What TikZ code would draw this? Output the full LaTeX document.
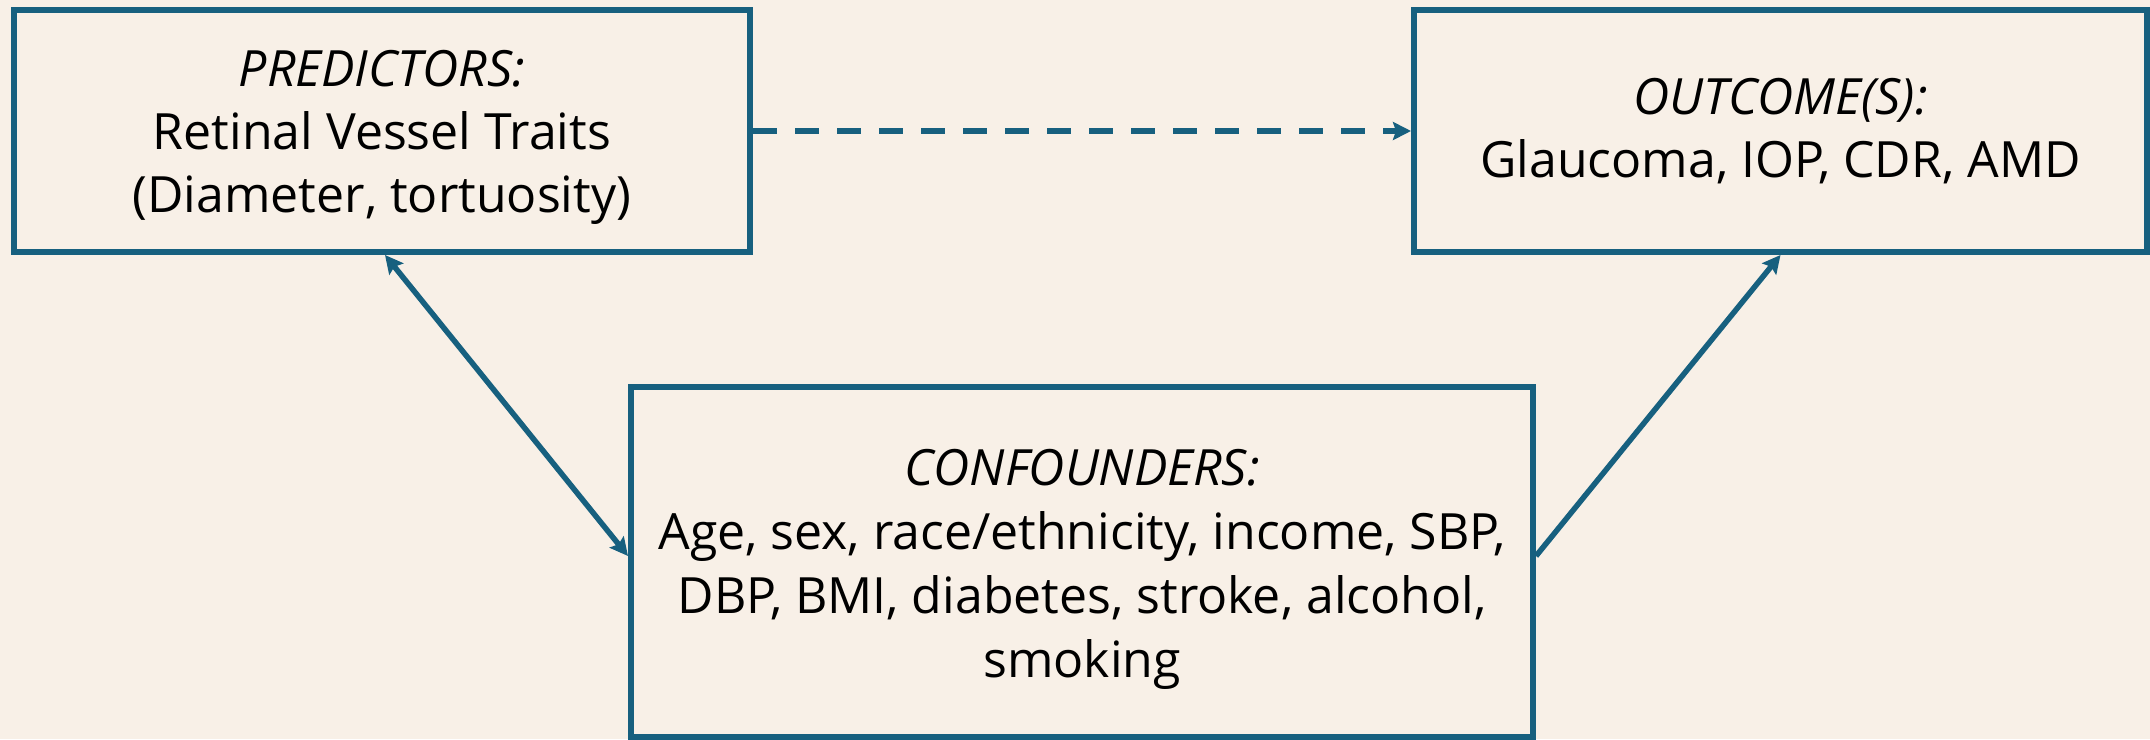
\documentclass[tikz,border=0pt]{standalone}
\usepackage{fontspec}
\setmainfont{Open Sans}
\usetikzlibrary{arrows.meta,calc}
\definecolor{edge}{HTML}{17607F}
\definecolor{bg}{HTML}{F8F0E7}
\begin{document}
\begin{tikzpicture}[x=1pt,y=-1pt,
  box/.style={draw=edge,line width=6pt,fill=bg,rectangle,align=center,inner sep=0pt,
    font=\fontsize{50}{63}\selectfont},
  tip/.tip={Stealth[length=18pt,width=18pt,inset=3pt]},
  conn/.style={draw=edge,line width=5.5pt,-tip},
  biconn/.style={draw=edge,line width=5.5pt,tip-tip}
]
\fill[bg] (0,0) rectangle (2150,739);
\useasboundingbox (0,0) rectangle (2150,739);
\node[box,minimum width=736pt,minimum height=242pt] (pred) at (382,131)
  {\rule{0pt}{50pt}\textit{PREDICTORS:}\\Retinal Vessel Traits\\(Diameter, tortuosity)};
\node[box,minimum width=733pt,minimum height=242pt] (out) at (1780.5,131)
  {\textit{OUTCOME(S):}\\Glaucoma, IOP, CDR, AMD};
\node[box,minimum width=902pt,minimum height=350pt,font=\fontsize{50}{64}\selectfont] (conf) at (1082,562)
  {\rule{0pt}{50pt}\textit{CONFOUNDERS:}\\Age, sex, race/ethnicity, income, SBP,\\DBP, BMI, diabetes, stroke, alcohol,\\smoking};
\coordinate (pb) at ([xshift=374pt]pred.south west);
\coordinate (cl) at ([yshift=-172pt]conf.north west);
\coordinate (cr) at ([yshift=-172pt]conf.north east);
\draw[conn,dash pattern=on 24pt off 18pt] (pred.east) -- (out.west);
\draw[biconn] (pb) -- (cl);
\draw[conn] (cr) -- (out.south);
\end{tikzpicture}
\end{document}
